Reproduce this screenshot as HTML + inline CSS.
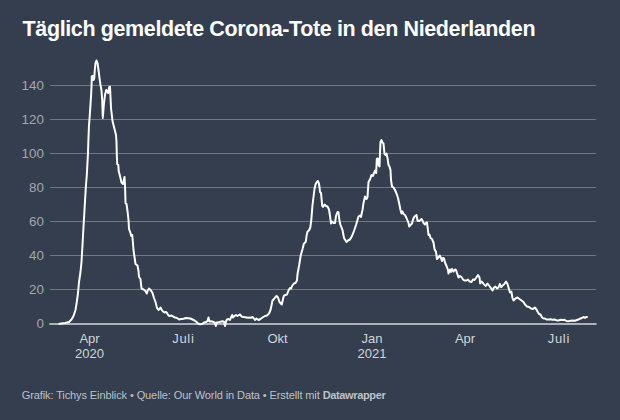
<!DOCTYPE html>
<html><head><meta charset="utf-8"><style>
html,body{margin:0;padding:0;background:#343e4f;width:620px;height:420px;overflow:hidden}
svg{display:block}
text{font-family:"Liberation Sans",sans-serif}
.t{font-size:21.5px;font-weight:bold;fill:#ffffff;letter-spacing:-0.38px}
.yl{font-size:13.4px;fill:#a3a7ae}
.xl{font-size:13px;fill:#d2d5d9}
.ft{font-size:11px;fill:#bec1c7;letter-spacing:-0.1px}
</style></head><body>
<svg width="620" height="420" viewBox="0 0 620 420">
<rect width="620" height="420" fill="#343e4f"/>
<text x="22.6" y="35.8" class="t">Täglich gemeldete Corona-Tote in den Niederlanden</text>
<line x1="50" y1="85.5" x2="596" y2="85.5" stroke="#72777f" stroke-width="1"/><line x1="50" y1="119.5" x2="596" y2="119.5" stroke="#72777f" stroke-width="1"/><line x1="50" y1="153.5" x2="596" y2="153.5" stroke="#72777f" stroke-width="1"/><line x1="50" y1="187.5" x2="596" y2="187.5" stroke="#72777f" stroke-width="1"/><line x1="50" y1="221.5" x2="596" y2="221.5" stroke="#72777f" stroke-width="1"/><line x1="50" y1="255.5" x2="596" y2="255.5" stroke="#72777f" stroke-width="1"/><line x1="50" y1="289.5" x2="596" y2="289.5" stroke="#72777f" stroke-width="1"/>
<line x1="49.3" y1="324" x2="596.6" y2="324" stroke="#adb1b9" stroke-width="2"/>
<text x="43.9" y="89.5" text-anchor="end" class="yl">140</text><text x="43.9" y="123.5" text-anchor="end" class="yl">120</text><text x="43.9" y="157.5" text-anchor="end" class="yl">100</text><text x="43.9" y="191.5" text-anchor="end" class="yl">80</text><text x="43.9" y="225.5" text-anchor="end" class="yl">60</text><text x="43.9" y="259.5" text-anchor="end" class="yl">40</text><text x="43.9" y="293.5" text-anchor="end" class="yl">20</text><text x="43.9" y="327.9" text-anchor="end" class="yl">0</text>
<text x="89.5" y="343" text-anchor="middle" class="xl">Apr</text><text x="89.5" y="358" text-anchor="middle" class="xl">2020</text><text x="183.35" y="343" text-anchor="middle" class="xl" style="letter-spacing:0.7px">Juli</text><text x="277.6" y="343" text-anchor="middle" class="xl">Okt</text><text x="372" y="343" text-anchor="middle" class="xl">Jan</text><text x="372" y="358" text-anchor="middle" class="xl">2021</text><text x="465" y="343" text-anchor="middle" class="xl">Apr</text><text x="558.85" y="343" text-anchor="middle" class="xl" style="letter-spacing:0.7px">Juli</text>
<path d="M59.5,323.8 L65.0,323.0 L69.0,322.0 L71.5,319.5 L73.5,316.0 L75.5,310.0 L76.8,302.0 L78.0,293.0 L79.0,282.0 L80.5,272.0 L81.5,262.0 L82.5,245.0 L83.8,221.5 L84.2,215.0 L85.8,187.5 L86.8,175.0 L88.0,153.0 L88.5,137.0 L89.0,125.0 L89.8,115.0 L90.6,103.0 L91.2,93.0 L91.5,87.0 L91.8,76.5 L92.8,76.0 L93.5,80.0 L94.2,78.5 L94.8,70.0 L95.5,63.0 L96.5,60.5 L97.5,63.0 L98.5,70.0 L99.5,78.0 L100.5,85.0 L101.5,90.5 L102.2,100.0 L102.8,118.0 L103.8,105.0 L105.0,95.0 L106.2,90.0 L107.2,91.0 L108.2,93.0 L109.2,87.0 L110.0,86.5 L110.5,97.0 L111.0,108.0 L112.5,121.0 L114.5,129.0 L116.0,135.0 L116.5,142.0 L116.8,155.0 L117.2,164.0 L118.3,165.0 L118.7,171.0 L120.0,176.0 L121.5,182.5 L123.0,184.0 L124.5,177.0 L125.0,185.0 L125.3,195.0 L125.5,203.0 L126.5,204.0 L127.5,211.0 L128.5,220.0 L129.0,229.0 L130.5,233.0 L131.2,236.0 L132.2,235.0 L132.8,241.0 L133.5,250.0 L134.5,257.0 L135.5,264.0 L137.5,265.5 L138.5,271.0 L139.0,277.0 L140.5,279.0 L141.0,284.0 L141.5,288.5 L143.5,289.5 L145.5,291.0 L146.8,293.5 L148.0,290.0 L149.0,288.5 L151.0,290.5 L152.5,293.0 L154.0,298.0 L155.5,302.0 L157.0,308.0 L158.5,310.0 L159.5,309.0 L160.5,307.5 L161.5,309.5 L163.0,311.5 L164.5,312.5 L166.0,312.0 L167.0,313.0 L168.5,315.5 L170.0,316.0 L171.5,315.5 L173.0,316.5 L175.0,317.5 L177.0,318.0 L179.0,319.5 L181.0,319.0 L183.5,318.8 L186.0,318.0 L188.0,318.2 L190.5,318.5 L192.5,319.5 L194.5,320.5 L196.0,321.5 L198.0,323.5 L200.0,324.2 L202.0,324.0 L204.0,322.5 L206.0,322.0 L207.5,321.2 L208.5,317.5 L209.5,321.5 L211.0,321.2 L213.0,321.8 L214.5,322.5 L215.8,326.0 L216.5,322.5 L218.5,322.2 L220.5,321.8 L222.5,321.2 L224.0,321.8 L225.0,326.0 L226.0,321.5 L227.0,319.5 L228.5,319.0 L230.0,320.0 L231.0,317.5 L232.2,315.0 L233.0,317.5 L234.5,316.0 L236.0,315.0 L237.5,316.0 L239.0,315.0 L240.2,314.5 L241.5,316.5 L243.5,317.0 L245.5,317.2 L247.5,317.8 L249.5,317.5 L251.0,317.8 L252.5,317.0 L253.5,318.0 L255.0,320.0 L256.5,318.5 L258.5,320.0 L260.5,319.0 L262.5,317.5 L265.0,316.0 L267.0,315.5 L269.0,313.5 L270.5,310.0 L271.5,305.5 L272.5,300.5 L274.0,299.0 L275.5,297.0 L276.5,296.0 L278.0,297.5 L279.5,302.0 L281.8,304.5 L283.0,299.0 L284.0,295.5 L285.5,295.0 L287.0,294.5 L288.5,290.5 L290.0,288.0 L291.2,288.5 L292.0,286.0 L294.0,283.5 L295.5,283.0 L297.0,280.5 L297.5,274.2 L299.2,265.0 L300.8,255.0 L302.5,249.2 L303.7,244.2 L305.8,241.7 L306.7,235.0 L307.5,231.7 L309.2,230.0 L310.3,227.5 L311.3,220.0 L312.5,205.0 L313.5,197.0 L314.5,189.0 L315.5,184.5 L316.8,182.0 L317.8,181.0 L318.8,183.0 L319.5,187.0 L320.0,192.0 L321.0,193.0 L321.5,198.0 L322.2,206.0 L323.0,207.0 L324.5,204.5 L326.0,206.0 L327.5,206.5 L329.0,209.5 L330.0,216.0 L331.0,223.5 L332.0,221.5 L333.5,223.0 L335.0,223.0 L336.0,216.0 L337.5,212.0 L338.5,212.5 L339.5,221.0 L340.5,225.0 L342.5,230.0 L344.0,238.0 L345.5,240.5 L346.5,242.0 L348.0,240.5 L350.0,239.5 L352.0,236.0 L354.0,231.0 L356.0,225.0 L357.5,220.0 L358.5,216.5 L360.0,215.5 L361.0,217.0 L362.0,212.0 L362.5,210.0 L363.5,203.0 L365.0,196.5 L366.5,199.0 L367.5,197.0 L368.5,182.0 L370.0,179.5 L371.5,175.0 L373.0,176.0 L374.0,173.0 L375.0,170.5 L376.2,173.0 L376.8,159.0 L377.8,158.5 L378.5,165.0 L379.5,166.5 L380.0,153.0 L380.5,142.0 L381.5,140.0 L382.5,142.5 L383.5,143.5 L384.5,154.0 L385.5,155.0 L386.5,153.5 L387.5,158.0 L388.5,165.0 L389.5,166.5 L390.5,170.0 L391.0,180.0 L392.0,186.5 L393.5,187.5 L395.0,190.0 L396.5,193.5 L398.0,198.0 L399.5,205.0 L400.5,210.0 L401.5,213.5 L402.5,211.5 L403.5,214.0 L405.0,215.0 L406.5,218.0 L407.5,220.5 L408.5,223.0 L409.2,226.5 L410.5,225.0 L412.0,223.5 L413.0,219.5 L414.5,216.5 L416.5,215.0 L417.5,220.5 L419.0,221.0 L420.5,220.0 L421.5,219.0 L422.5,220.5 L423.5,223.0 L425.0,224.5 L426.0,223.0 L427.0,222.5 L427.8,229.0 L428.5,235.0 L429.5,234.5 L430.5,238.0 L432.0,239.0 L433.5,242.5 L434.5,249.0 L436.0,252.0 L437.0,259.0 L438.5,257.5 L439.8,255.5 L441.0,258.0 L442.0,261.0 L443.0,258.0 L444.0,258.5 L445.0,262.5 L446.5,266.0 L448.0,270.0 L448.5,273.5 L450.0,269.5 L451.0,272.0 L452.0,269.0 L453.5,271.5 L455.0,269.5 L456.0,270.0 L457.0,273.0 L458.5,277.5 L460.0,276.0 L461.5,277.0 L463.0,279.5 L464.5,280.5 L466.5,280.5 L468.0,279.5 L469.5,281.5 L471.5,282.0 L473.0,279.5 L474.5,280.0 L476.0,278.0 L478.0,275.0 L479.5,277.5 L480.2,283.5 L481.5,281.5 L483.0,283.0 L484.5,285.0 L485.8,286.0 L487.5,283.5 L489.0,285.5 L490.5,287.5 L492.5,290.5 L494.0,287.5 L495.5,286.5 L497.0,288.5 L498.5,287.5 L499.8,284.0 L501.2,287.0 L502.5,285.5 L504.0,284.5 L506.0,281.5 L507.5,284.0 L508.5,287.5 L510.0,292.5 L511.3,291.5 L512.5,298.0 L513.5,300.5 L515.5,298.5 L517.5,297.5 L519.5,299.0 L521.5,300.5 L523.5,302.0 L525.0,304.5 L527.0,306.5 L529.0,307.0 L531.0,308.5 L533.0,309.0 L534.8,307.5 L536.5,309.5 L537.5,311.5 L539.0,314.0 L540.5,314.5 L542.0,317.5 L543.5,318.5 L545.0,318.5 L546.5,319.5 L548.5,319.5 L550.5,319.2 L552.5,319.8 L554.5,319.5 L556.5,320.2 L558.5,320.5 L560.5,319.8 L562.5,320.0 L564.5,319.8 L566.5,321.0 L568.5,321.2 L570.5,320.8 L573.0,320.5 L575.0,320.8 L577.0,320.0 L579.0,319.2 L580.5,318.5 L582.0,318.0 L583.5,317.0 L585.0,317.8 L586.2,317.0 L587.0,317.0" fill="none" stroke="#ffffff" stroke-width="2" stroke-linejoin="round" stroke-linecap="round"/>
<text x="21.7" y="399" class="ft">Grafik: Tichys Einblick • Quelle: Our World in Data • Erstellt mit <tspan font-weight="bold" style="letter-spacing:-0.36px">Datawrapper</tspan></text>
</svg>
</body></html>
